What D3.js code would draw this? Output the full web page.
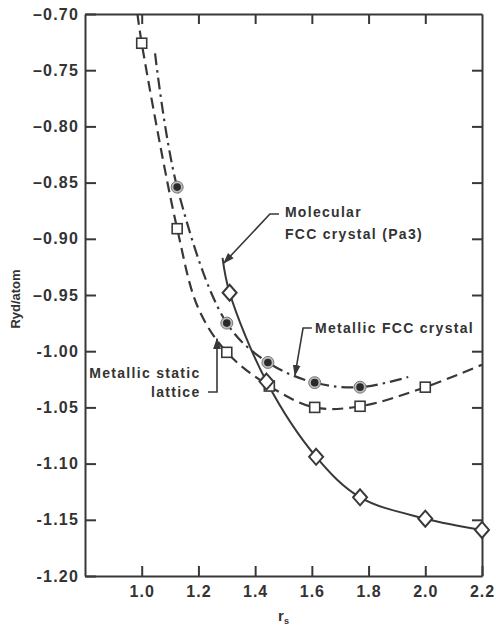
<!DOCTYPE html>
<html>
<head>
<meta charset="utf-8">
<script src="https://cdn.jsdelivr.net/npm/d3@7/dist/d3.min.js"></script>
<style>
  html, body { margin: 0; padding: 0; background: #fff; }
  svg { display: block; }
  text { font-family: "Liberation Sans", Arial, sans-serif; font-weight: bold; fill: #333; }
</style>
</head>
<body>
<svg id="chart" width="496" height="626"></svg>
<script>
// Energy per atom (Ryd/atom) versus r_s for three hydrogen phases.

// Axis ticks
const yTickValues = [-0.70, -0.75, -0.80, -0.85, -0.90, -0.95, -1.00, -1.05, -1.10, -1.15, -1.20];
const yTickLabels = ["\u20130.70", "\u20130.75", "\u20130.80", "\u20130.85", "\u20130.90", "\u20130.95",
                     "-1.00", "-1.05", "-1.10", "-1.15", "-1.20"];
const xTickValues = [1.0, 1.2, 1.4, 1.6, 1.8, 2.0, 2.2];
const xTickLabels = ["1.0", "1.2", "1.4", "1.6", "1.8", "2.0", "2.2"];

// Metallic static lattice (dashed, squares)
const staticMarkR = [1.0, 1.125, 1.30, 1.45, 1.61, 1.77, 2.0];
const staticMarkE = [-0.726, -0.891, -1.001, -1.031, -1.050, -1.049, -1.032];
const staticLineR = [0.985, 1.0, 1.125, 1.20, 1.30, 1.45, 1.61, 1.77, 2.0, 2.2];
const staticLineE = [-0.700, -0.726, -0.891, -0.962, -1.001, -1.031, -1.050, -1.049, -1.032, -1.012];

// Metallic FCC crystal (dash-dot, filled circles)
const fccMarkR = [1.125, 1.30, 1.445, 1.61, 1.77];
const fccMarkE = [-0.854, -0.975, -1.010, -1.028, -1.032];
const fccLineR = [1.047, 1.125, 1.30, 1.445, 1.61, 1.77, 1.94];
const fccLineE = [-0.735, -0.854, -0.975, -1.010, -1.028, -1.032, -1.023];

// Molecular FCC crystal, Pa3 (solid, diamonds)
const molMarkR = [1.31, 1.44, 1.615, 1.77, 2.0, 2.2];
const molMarkE = [-0.948, -1.027, -1.094, -1.130, -1.149, -1.159];
const molLineR = [1.285, 1.31, 1.44, 1.615, 1.77, 2.0, 2.2];
const molLineE = [-0.917, -0.948, -1.027, -1.094, -1.130, -1.149, -1.159];

const ink = "#383838";
const svg = d3.select("#chart");

const x = d3.scaleLinear().domain([0.8, 2.2]).range([85, 482]);
const y = d3.scaleLinear().domain([-1.20, -0.70]).range([576, 14]);

const zip = (a, b) => a.map((v, i) => [v, b[i]]);

// Axes: ticks point inward on all four sides
function styleAxis(g) {
  g.selectAll("path.domain").attr("stroke", ink).attr("stroke-width", 2);
  g.selectAll(".tick line").attr("stroke", ink).attr("stroke-width", 2);
  g.selectAll(".tick text")
    .attr("fill", ink)
    .style("font-size", "16px")
    .style("font-family", "'Liberation Sans', Arial, sans-serif")
    .style("font-weight", "bold");
}

svg.append("g")
  .attr("transform", `translate(${x.range()[0]},0)`)
  .call(d3.axisLeft(y).tickValues(yTickValues)
    .tickFormat((d, i) => yTickLabels[i]).tickSizeInner(-11).tickSizeOuter(0).tickPadding(7))
  .call(styleAxis)
  .call(g => g.selectAll(".tick text").attr("letter-spacing", "1.2px").attr("dx", "1"));

svg.append("g")
  .attr("transform", `translate(0,${y.range()[0]})`)
  .call(d3.axisBottom(x).tickValues(xTickValues)
    .tickFormat((d, i) => xTickLabels[i]).tickSizeInner(-10).tickSizeOuter(0).tickPadding(10))
  .call(styleAxis)
  .call(g => g.selectAll(".tick text").attr("letter-spacing", "1px"));

svg.append("g")
  .attr("transform", `translate(0,${y.range()[1]})`)
  .call(d3.axisTop(x).tickValues(xTickValues.slice(0, -1))
    .tickFormat("").tickSizeInner(-10).tickSizeOuter(0))
  .call(styleAxis);

svg.append("g")
  .attr("transform", `translate(${x.range()[1]},0)`)
  .call(d3.axisRight(y).tickValues(yTickValues.slice(1, -1))
    .tickFormat("").tickSizeInner(-10).tickSizeOuter(0))
  .call(styleAxis);

// Axis titles
svg.append("text")
  .attr("transform", `translate(20,${(y.range()[0] + y.range()[1]) / 2 + 4}) rotate(-90)`)
  .attr("text-anchor", "middle")
  .style("font-size", "13px")
  .text("Ryd/atom");

const xTitle = svg.append("text")
  .attr("x", (x.range()[0] + x.range()[1]) / 2)
  .attr("y", 621)
  .attr("text-anchor", "middle")
  .style("font-size", "15px");
xTitle.append("tspan").text("r");
xTitle.append("tspan").attr("dy", "3").style("font-size", "9px").text("s");

// Curves
const line = d3.line().x(d => x(d[0])).y(d => y(d[1])).curve(d3.curveCatmullRom.alpha(0.5));

const plot = svg.append("g");
plot.append("path").datum(zip(staticLineR, staticLineE))
  .attr("d", line).attr("fill", "none").attr("stroke", ink)
  .attr("stroke-width", 2.2).attr("stroke-dasharray", "11,6");
plot.append("path").datum(zip(fccLineR, fccLineE))
  .attr("d", line).attr("fill", "none").attr("stroke", ink)
  .attr("stroke-width", 2.2).attr("stroke-dasharray", "12,5,2.5,5");
plot.append("path").datum(zip(molLineR, molLineE))
  .attr("d", line).attr("fill", "none").attr("stroke", ink)
  .attr("stroke-width", 2);

// Markers
plot.selectAll("rect.sq").data(zip(staticMarkR, staticMarkE)).join("rect")
  .attr("class", "sq")
  .attr("x", d => x(d[0]) - 5).attr("y", d => y(d[1]) - 5)
  .attr("width", 10).attr("height", 10)
  .attr("fill", "#fff").attr("stroke", ink).attr("stroke-width", 1.6);

const dots = plot.selectAll("g.dot").data(zip(fccMarkR, fccMarkE)).join("g")
  .attr("class", "dot")
  .attr("transform", d => `translate(${x(d[0])},${y(d[1])})`);
dots.append("circle").attr("r", 6).attr("fill", "#bbb").attr("stroke", "#777").attr("stroke-width", 1);
dots.append("circle").attr("r", 3.8).attr("fill", "#2a2a2a");

const diamond = "M0,-8 L7,0 L0,8 L-7,0 Z";
plot.selectAll("path.dia").data(zip(molMarkR, molMarkE)).join("path")
  .attr("class", "dia")
  .attr("transform", d => `translate(${x(d[0])},${y(d[1])})`)
  .attr("d", diamond)
  .attr("fill", "#fff").attr("stroke", ink).attr("stroke-width", 2);

// Annotations with leader arrows (positions in data units)
const defs = svg.append("defs");
defs.append("marker")
  .attr("id", "arrow").attr("viewBox", "0 0 10 10")
  .attr("refX", 9).attr("refY", 5)
  .attr("markerWidth", 7).attr("markerHeight", 7)
  .attr("orient", "auto-start-reverse")
  .append("path").attr("d", "M0,1.5 L10,5 L0,8.5 Z").attr("fill", ink);

const annotations = [
  { lines: ["Molecular", "FCC crystal (Pa3)"], tx: 1.505, ty: [-0.8806, -0.9002], anchor: "start",
    leader: [[1.484, -0.878], [1.452, -0.878], [1.290, -0.9215]] },
  { lines: ["Metallic FCC crystal"], tx: 1.611, ty: [-0.9838], anchor: "start",
    leader: [[1.600, -0.9794], [1.569, -0.9794], [1.5405, -1.0212]] },
  { lines: ["Metallic static", "lattice"], tx: 1.2075, ty: [-1.0238, -1.0408], anchor: "end",
    leader: [[1.2337, -1.0363], [1.2655, -1.0363], [1.2655, -0.989]] }
];

const ann = svg.append("g");
annotations.forEach(a => {
  a.lines.forEach((t, i) => {
    ann.append("text")
      .attr("x", x(a.tx)).attr("y", y(a.ty[i]))
      .attr("text-anchor", a.anchor)
      .attr("letter-spacing", "1.3px")
      .style("font-size", "14px")
      .text(t);
  });
  ann.append("path")
    .attr("d", d3.line().x(d => x(d[0])).y(d => y(d[1]))(a.leader))
    .attr("fill", "none").attr("stroke", ink).attr("stroke-width", 1.6)
    .attr("marker-end", "url(#arrow)");
});
</script>
</body>
</html>
